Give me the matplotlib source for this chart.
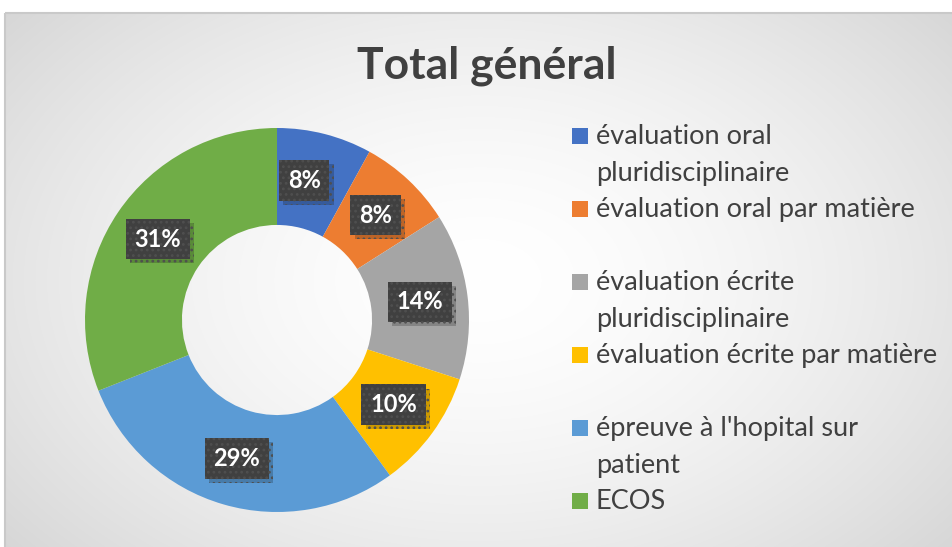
import numpy as np
from matplotlib import pyplot as plt
from matplotlib.patches import Rectangle
from matplotlib import patheffects as pe

labels = ["évaluation oral\npluridisciplinaire",
          "évaluation oral par matière",
          "évaluation écrite\npluridisciplinaire",
          "évaluation écrite par matière",
          "épreuve à l'hopital sur\npatient",
          "ECOS"]
values = [8, 8, 14, 10, 29, 31]
colors = ["#4472c4", "#ed7d31", "#a5a5a5", "#ffc000", "#5b9bd5", "#70ad47"]
title = "Total général"

W, H = 952, 547
plt.rcParams['font.family'] = ['Lato', 'DejaVu Sans']
plt.rcParams['hatch.linewidth'] = 1.2
fig = plt.figure(figsize=(W / 100, H / 100), dpi=100)
fig.patch.set_facecolor('white')

# background with radial gradient
bg = fig.add_axes([0, 0, 1, 1])
bg.set_xlim(0, W)
bg.set_ylim(H, 0)
bg.axis('off')
yy, xx = np.mgrid[0:H, 0:W]
d = np.sqrt(((xx - 480) / 620.0) ** 2 + ((yy - 280) / 420.0) ** 2)
shade = 1.0 - 0.16 * np.clip(d, 0, 1.2) ** 1.6
img = np.dstack([shade, shade, shade])
im = bg.imshow(img, extent=[0, W, H, 0], interpolation='bilinear')
frame = Rectangle((5, 13), W, H, facecolor='none', edgecolor='#c9c9c9', lw=1.5)
bg.add_patch(frame)
im.set_clip_path(frame)

cx, cy, R = 277, 320, 192
ax = fig.add_axes([(cx - R) / W, (H - cy - R) / H, 2 * R / W, 2 * R / H])
wedges, _ = ax.pie(values, colors=colors, startangle=90, counterclock=False,
                   wedgeprops=dict(width=0.505, edgecolor='none'))
ax.set_xlim(-1, 1)
ax.set_ylim(-1, 1)
ax.set_aspect('equal')

for i, (w, v) in enumerate(zip(wedges, values)):
    ang = np.deg2rad((w.theta1 + w.theta2) / 2)
    x, y = 0.75 * np.cos(ang), 0.75 * np.sin(ang)
    if i == 0:
        x -= 0.045
    t = ax.text(x, y, f"{v}%", ha='center', va='center', fontsize=17,
                fontweight='bold', color='white', zorder=5,
                bbox=dict(boxstyle='square,pad=0.37', facecolor='#404040', edgecolor='#4f4f4f',
                          lw=0, hatch='...'))
    t.get_bbox_patch().set_path_effects(
        [pe.SimplePatchShadow(offset=(3, -3), shadow_rgbFace='black', alpha=0.2), pe.Normal()])

fig.text(487 / W, 1 - 66 / H, title, ha='center', va='center', fontsize=32,
         fontweight='bold', color='#404040')

# legend
ly = 136
for lab, c in zip(labels, colors):
    bg.add_patch(Rectangle((572, ly - 8), 16, 16, facecolor=c, edgecolor='none'))
    for k, line in enumerate(lab.split('\n')):
        bg.text(596, ly + 8 + 36.5 * k, line, ha='left', va='baseline', fontsize=19.5,
                color='#404040')
    ly += 73

fig.savefig('out.png', dpi=100)
